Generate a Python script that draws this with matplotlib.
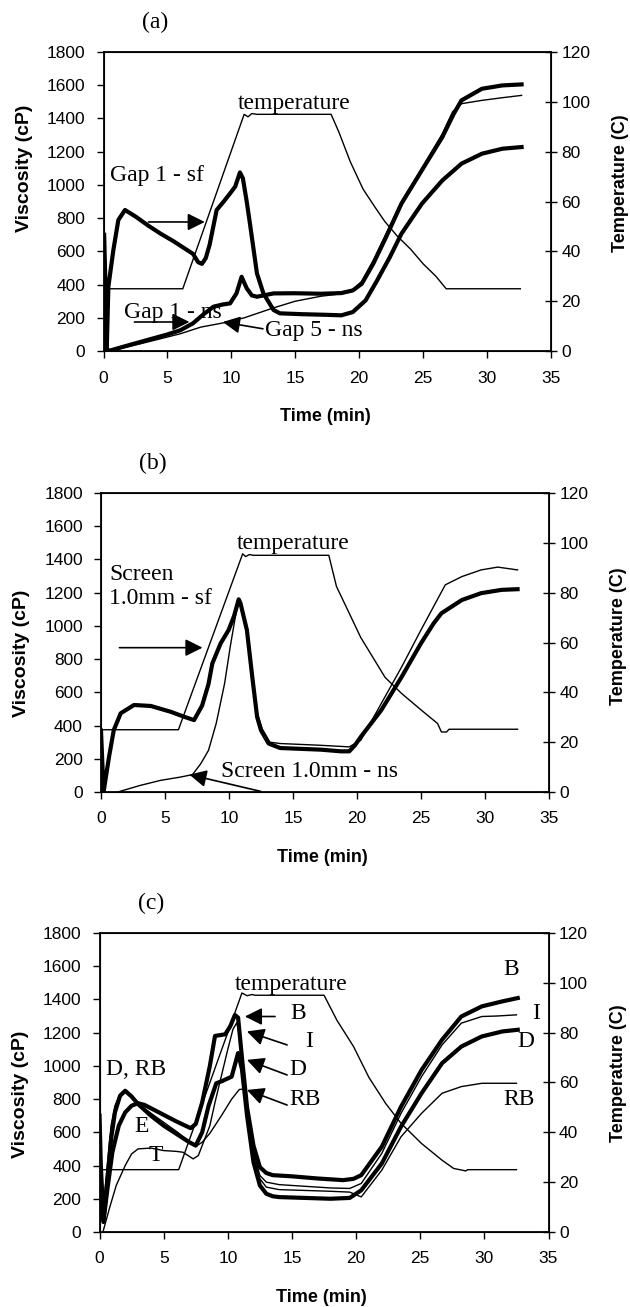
"""
Viscosity vs time curves for three sets of runs, (a), (b) and (c),
with the temperature profile drawn against a second y axis.
"""
import matplotlib
matplotlib.use("Agg")
import matplotlib.pyplot as plt

SANS = "Liberation Sans"
SERIF = "Liberation Serif"

# ---- panel (a): gap runs ----
A_TEMP_T = [0.2, 6.2, 11.0, 11.3, 11.6, 12.0, 17.8, 18.4, 19.3, 20.3, 21.2, 22.0,
            23.0, 24.0, 25.0, 26.0, 26.8, 32.6]
A_TEMP_C = [25, 25, 95, 94, 95.3, 95, 95, 88, 76, 65, 58, 52, 46, 41, 35, 30, 25, 25]

A_GAP1_SF_T = [0.05, 0.15, 0.25, 0.38, 0.77, 1.16, 1.68, 2.5, 3.5, 4.5, 5.5, 6.5, 7.0,
               7.4, 7.7, 8.0, 8.3, 8.85, 9.4, 9.9, 10.3, 10.67, 10.9, 11.2, 11.45,
               12.0, 12.5, 13.3, 13.8, 15.5, 17.5, 18.6, 19.5, 20.5, 21.4, 22.4, 23.3,
               24.9, 26.5, 28.0, 29.6, 31.2, 32.7]
A_GAP1_SF_V = [700, 400, 0, 387, 608, 789, 849, 810, 755, 705, 660, 610, 585,
               535, 525, 560, 640, 849, 900, 949, 990, 1075, 1040, 900, 769,
               468, 348, 247, 227, 222, 218, 215, 235, 305, 425, 566, 706,
               887, 1027, 1128, 1188, 1218, 1228]

A_GAP1_NS_T = [0.0, 0.2, 0.6, 1.5, 3.4, 5.0, 6.0, 7.0, 7.8, 8.6, 9.3, 9.9, 10.4, 10.8,
               11.2, 11.6, 12.0, 13.3, 15.0, 17.0, 18.6, 19.5, 20.2, 21.1, 22.1, 23.3,
               24.9, 26.5, 27.4, 28.0, 29.6, 31.2, 32.7]
A_GAP1_NS_V = [200, 0, 5, 25, 66, 100, 125, 167, 220, 267, 280, 287, 347, 447,
               378, 335, 327, 347, 348, 345, 349, 365, 405, 526, 686, 887,
               1088, 1288, 1429, 1509, 1579, 1599, 1605]

A_GAP5_NS_T = [0.5, 2.9, 6.0, 7.6, 9.4, 11.0, 13.3, 15.0, 17.0, 18.6, 19.5, 20.2, 21.1,
               22.1, 23.3, 24.9, 26.5, 27.3, 28.0, 29.6, 31.2, 32.7]
A_GAP5_NS_V = [0, 44, 104, 144, 170, 200, 260, 300, 330, 345, 370, 420, 546,
               706, 900, 1100, 1308, 1440, 1489, 1509, 1525, 1539]

# ---- panel (b): screen runs ----
B_TEMP_T = [0.0, 6.05, 11.07, 11.3, 11.6, 11.9, 17.8, 18.4, 20.3, 22.2, 23.5, 25.0,
            26.3, 26.6, 27.0, 27.2, 32.55]
B_TEMP_C = [25, 25, 95.6, 94.5, 95.3, 95, 95, 82.5, 62, 46, 39.5, 33, 27.5, 24.1,
            24.1, 25.2, 25.2]

B_SCR_SF_T = [0.0, 0.2, 0.63, 1.0, 1.54, 2.58, 3.9, 5.45, 6.5, 7.27, 7.9, 8.4, 8.7,
              9.35, 9.97, 10.4, 10.76, 10.9, 11.4, 11.85, 12.2, 12.5, 13.1, 14.0, 17.2,
              18.75, 19.4, 19.85, 20.3, 21.9, 23.5, 25.0, 26.0, 26.6, 28.2, 29.7,
              31.3, 32.55]
B_SCR_SF_V = [370, 0, 213, 373, 474, 524, 518, 483, 453, 433, 520, 650, 774,
              895, 975, 1060, 1160, 1136, 975, 674, 452, 372, 292, 265, 255,
              245, 245, 282, 332, 493, 694, 895, 1016, 1076, 1156, 1197,
              1217, 1221]

B_SCR_NS_T = [1.3, 3.07, 4.64, 6.2, 7.15, 7.8, 8.4, 9.0, 9.66, 10.1, 10.5, 10.76,
              11.0, 11.4, 11.85, 12.2, 12.6, 13.2, 14.0, 17.0, 19.4, 20.3, 21.9,
              23.5, 25.0, 26.9, 28.2, 29.7, 31.0, 32.55]
B_SCR_NS_V = [0, 40, 70, 90, 105, 171, 251, 412, 654, 875, 1056, 1150,
              1110, 975, 700, 480, 380, 300, 292, 282, 272, 312, 533,
              754, 975, 1247, 1297, 1337, 1354, 1337]

# ---- panel (c): B, I, D, RB ----
C_TEMP_T = [0.0, 6.17, 11.1, 11.5, 11.9, 12.1, 17.5, 18.5, 19.8, 21.0, 22.3, 23.5,
            25.1, 26.7, 27.6, 28.55, 28.7, 32.5]
C_TEMP_C = [25, 25, 95.9, 94.8, 95.3, 95, 95, 85, 74.4, 62, 51.6, 43.6, 35.5, 28.8,
            25.5, 24.5, 25, 25]

C_B_T = [0.0, 0.3, 0.6, 1.0, 1.5, 2.0, 2.5, 3.0, 3.5, 4.0, 5.0, 6.0, 7.1, 7.5, 8.0,
         8.6, 9.0, 9.8, 10.2, 10.55, 10.8, 11.1, 11.5, 12.0, 12.5, 13.0, 13.5, 15.0,
         17.0, 19.0, 19.8, 20.4, 22.0, 23.5, 25.1, 26.7, 28.2, 29.8, 31.4, 32.6]
C_B_V = [450, 60, 250, 480, 640, 720, 760, 775, 765, 745, 705, 665, 625, 650, 780,
         1000, 1180, 1190, 1240, 1306, 1290, 1050, 750, 520, 390, 355, 342, 335,
         322, 312, 320, 342, 513, 754, 975, 1157, 1297, 1358, 1388, 1408]

C_I_T = [0.3, 0.8, 1.3, 2.0, 2.5, 3.0, 4.0, 5.0, 6.0, 6.5, 7.0, 7.3, 7.7, 8.0, 8.6,
         9.0, 9.5, 10.0, 10.4, 10.7, 11.0, 11.3, 11.7, 12.0, 12.5, 13.0, 14.0, 16.0,
         18.0, 19.5, 20.4, 22.0, 23.5, 25.1, 26.7, 28.2, 29.8, 31.0, 32.5]
C_I_V = [10, 150, 280, 400, 470, 500, 505, 490, 485, 480, 455, 440, 460, 520, 640,
         780, 940, 1100, 1220, 1260, 1150, 900, 650, 480, 340, 300, 285, 275,
         265, 262, 292, 473, 714, 935, 1126, 1257, 1297, 1300, 1307]

C_D_T = [0.0, 0.1, 0.3, 0.6, 0.9, 1.2, 1.6, 2.0, 2.5, 3.0, 4.0, 5.0, 6.0, 7.0, 7.5,
         8.0, 8.5, 9.1, 9.6, 10.3, 10.8, 11.1, 11.5, 12.0, 12.5, 13.0, 13.5, 14.0,
         16.0, 18.0, 19.5, 20.4, 22.0, 23.5, 25.1, 26.7, 28.2, 29.8, 31.4, 32.6]
C_D_V = [700, 400, 72, 300, 560, 720, 820, 850, 815, 770, 700, 640, 590, 540, 520,
         600, 760, 895, 910, 935, 1077, 980, 700, 420, 280, 230, 215, 210, 205,
         200, 205, 251, 412, 634, 835, 1016, 1116, 1177, 1207, 1217]

C_RB_T = [0.0, 0.1, 0.3, 0.6, 0.9, 1.2, 1.6, 2.0, 2.5, 3.0, 4.0, 5.0, 6.0, 7.0, 7.5,
          8.0, 8.6, 9.5, 10.3, 10.9, 11.3, 11.6, 12.0, 12.5, 13.0, 14.0, 16.0, 18.0,
          19.5, 20.4, 22.0, 23.5, 25.1, 26.7, 28.2, 29.8, 31.0, 32.5]
C_RB_V = [600, 300, 150, 400, 640, 760, 830, 845, 815, 770, 715, 660, 605, 545, 515,
          540, 594, 700, 800, 858, 860, 700, 450, 320, 270, 255, 250, 245, 240,
          211, 372, 573, 714, 835, 875, 895, 895, 895]

X_TICKS = [0, 5, 10, 15, 20, 25, 30, 35]
VISC_TICKS = [0, 200, 400, 600, 800, 1000, 1200, 1400, 1600, 1800]
TEMP_TICKS = [0, 20, 40, 60, 80, 100, 120]

THICK, THIN = 3.0, 1.0


def panel(fig, rect, letter, temp_t, temp_c, curves, notes, arrows, ylab_y, tlab_y):
    ax = fig.add_axes(rect)
    for t, v, lw in curves:
        ax.plot(t, v, color="black", lw=lw, solid_joinstyle="round")
    ax.set_xlim(0, 35)
    ax.set_ylim(0, 1800)
    ax.set_xticks(X_TICKS)
    ax.set_yticks(VISC_TICKS)
    ax.tick_params(direction="out", length=5, width=1, labelsize=12.5)
    ax.tick_params(axis="x", pad=9)
    ax.tick_params(axis="y", pad=8)
    for lab in ax.get_xticklabels() + ax.get_yticklabels():
        lab.set_family(SANS)
    for s in ax.spines.values():
        s.set_linewidth(1.3)

    ax2 = ax.twinx()
    ax2.plot(temp_t, temp_c, color="black", lw=1.0)
    ax2.set_ylim(0, 120)
    ax2.set_yticks(TEMP_TICKS)
    ax2.tick_params(direction="inout", length=9, width=1, labelsize=12.5, pad=3)
    for lab in ax2.get_yticklabels():
        lab.set_family(SANS)

    ax.set_xlabel("Time (min)", family=SANS, fontsize=13, fontweight="bold")
    ax.xaxis.set_label_coords(0.495, -0.19)
    ax.set_ylabel("Viscosity (cP)", family=SANS, fontsize=14, fontweight="bold")
    ax.yaxis.set_label_coords(-0.158, ylab_y)
    ax2.set_ylabel("Temperature (C)", family=SANS, fontsize=13, fontweight="bold")
    ax2.yaxis.set_label_coords(1.137, tlab_y)

    for x, y, s in notes:
        ax2.text(x, y / 15, s, ha="left", va="center", family=SERIF, fontsize=17)
    for tail, tip in arrows:
        ax2.annotate("", xy=(tip[0], tip[1] / 15), xytext=(tail[0], tail[1] / 15),
                     arrowprops=dict(arrowstyle="-|>", color="black", lw=1.2,
                                     mutation_scale=26, shrinkA=0, shrinkB=0))
    ax.text(0.115, 1.1, letter, transform=ax.transAxes, ha="center", va="center",
            family=SERIF, fontsize=17)
    return ax


def main():
    fig = plt.figure(figsize=(6.3, 13.07), dpi=100)

    panel(fig, [0.1643, 0.7314, 0.7103, 0.2288], "(a)", A_TEMP_T, A_TEMP_C,
          [(A_GAP1_SF_T, A_GAP1_SF_V, THICK),
           (A_GAP1_NS_T, A_GAP1_NS_V, THICK),
           (A_GAP5_NS_T, A_GAP5_NS_V, THIN)],
          [(10.49, 1489, "temperature"), (0.53, 1058, "Gap 1 - sf"),
           (1.57, 235, "Gap 1 - ns"), (12.63, 124, "Gap 5 - ns")],
          [((3.52, 777), (7.92, 777)), ((2.42, 175), (6.72, 175)),
           ((12.47, 134), (9.33, 175))],
          0.61, 0.56)

    panel(fig, [0.1603, 0.394, 0.711, 0.2288], "(b)", B_TEMP_T, B_TEMP_C,
          [(B_SCR_NS_T, B_SCR_NS_V, THIN),
           (B_SCR_SF_T, B_SCR_SF_V, THICK)],
          [(10.6, 1494, "temperature"), (0.63, 1238, "Screen\n1.0mm - sf"),
           (9.41, 121, "Screen 1.0mm - ns")],
          [((1.44, 869), (7.93, 869)), ((12.48, 4), (6.9, 105))],
          0.465, 0.52)

    panel(fig, [0.158, 0.0574, 0.7127, 0.2288], "(c)", C_TEMP_T, C_TEMP_C,
          [(C_RB_T, C_RB_V, THIN), (C_I_T, C_I_V, THIN),
           (C_D_T, C_D_V, THICK), (C_B_T, C_B_V, THICK)],
          [(10.55, 1488, "temperature"), (14.9, 1317, "B"), (16.0, 1146, "I"),
           (14.8, 975, "D"), (14.8, 798, "RB"), (31.5, 1579, "B"),
           (33.7, 1317, "I"), (32.6, 1146, "D"), (31.5, 798, "RB"),
           (0.53, 975, "D, RB"), (2.7, 634, "E"), (3.8, 463, "T")],
          [((13.68, 1297), (11.33, 1297)), ((14.62, 1126), (11.49, 1207)),
           ((14.62, 945), (11.49, 1036)), ((14.62, 764), (11.49, 855))],
          0.46, 0.53)

    fig.savefig("out.png", dpi=100)


if __name__ == "__main__":
    main()
